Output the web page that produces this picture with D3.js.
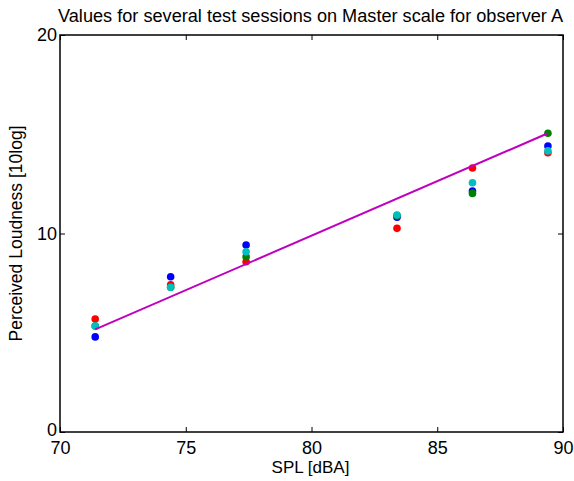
<!DOCTYPE html>
<html><head><meta charset="utf-8">
<script src="https://cdn.jsdelivr.net/npm/d3@7"></script>
<style>body{margin:0;background:#fff}svg{display:block}text{font-family:"Liberation Sans",Arial,sans-serif;fill:#000}</style>
</head><body><svg id="c" width="574" height="481"></svg>
<script>
const splLevels = [71.4, 74.4, 77.4, 83.4, 86.4, 89.4];
const sessionRed   = [5.69, 7.42, 8.58, 10.26, 13.30, 14.07];
const sessionBlue  = [4.79, 7.82, 9.42, 10.82, 12.14, 14.41];
const sessionGreen = [5.34, 7.29, 8.83, 10.90, 12.02, 15.05];
const sessionCyan  = [5.34, 7.29, 9.08, 10.93, 12.56, 14.16];
const fitLine = [[71.4, 5.17], [89.4, 15.05]];
const xTicks = [70, 75, 80, 85, 90];
const yTicks = [0, 10, 20];
const series = [
  {name: "red", color: "#ff0000", values: sessionRed},
  {name: "blue", color: "#0000ff", values: sessionBlue},
  {name: "green", color: "#008000", values: sessionGreen},
  {name: "cyan", color: "#00bfbf", values: sessionCyan}
];

const svg = d3.select("#c");
const L = 60, R = 563, T = 35, B = 432;
const x = d3.scaleLinear().domain([70, 90]).range([L, R]);
const y = d3.scaleLinear().domain([0, 20]).range([B, T]);

svg.append("rect").attr("x", L).attr("y", T).attr("width", R - L).attr("height", B - T)
  .attr("fill", "#fff").attr("stroke", "#000").attr("stroke-width", 1.5);

const ax = (g) => g.select(".domain").remove();
const FF = "Liberation Sans, Arial, sans-serif";
svg.append("g").attr("transform", `translate(0,${B})`)
  .call(d3.axisBottom(x).tickValues(xTicks).tickSize(-5).tickPadding(9).tickFormat(d3.format("d")))
  .call(ax).call(g => g.selectAll("text").attr("font-size", 18).attr("font-family", FF));
svg.append("g").attr("transform", `translate(0,${T})`)
  .call(d3.axisTop(x).tickValues(xTicks).tickSize(-5).tickFormat(""))
  .call(ax);
svg.append("g").attr("transform", `translate(${L},0)`)
  .call(d3.axisLeft(y).tickValues(yTicks).tickSize(-5).tickPadding(3).tickFormat(d3.format("d")))
  .call(ax).call(g => g.selectAll("text").attr("font-size", 18).attr("font-family", FF)
    .attr("dy", d => d === 0 ? "0.2em" : "0.32em"));
svg.append("g").attr("transform", `translate(${R},0)`)
  .call(d3.axisRight(y).tickValues(yTicks).tickSize(-5).tickFormat(""))
  .call(ax);
svg.selectAll(".tick line").attr("stroke", "#000");

series.forEach(s => {
  svg.append("g").selectAll("circle").data(s.values).join("circle")
    .attr("cx", (d, i) => x(splLevels[i])).attr("cy", d => y(d)).attr("r", 3.8)
    .attr("fill", s.color);
});

svg.append("path").datum(fitLine)
  .attr("d", d3.line().x(d => x(d[0])).y(d => y(d[1])))
  .attr("stroke", "#bf00bf").attr("stroke-width", 2).attr("fill", "none");

svg.append("text").attr("x", (L + R) / 2 - 1).attr("y", 22).attr("text-anchor", "middle")
  .attr("font-size", 17.5).attr("textLength", 505).attr("lengthAdjust", "spacingAndGlyphs")
  .text("Values for several test sessions on Master scale for observer A");
svg.append("text").attr("x", (L + R) / 2 - 1).attr("y", 473).attr("text-anchor", "middle")
  .attr("font-size", 17).text("SPL [dBA]");
svg.append("text").attr("transform", `translate(22,${(T + B) / 2}) rotate(-90)`).attr("text-anchor", "middle")
  .attr("font-size", 17.5).text("Perceived Loudness [10log]");
</script></body></html>
